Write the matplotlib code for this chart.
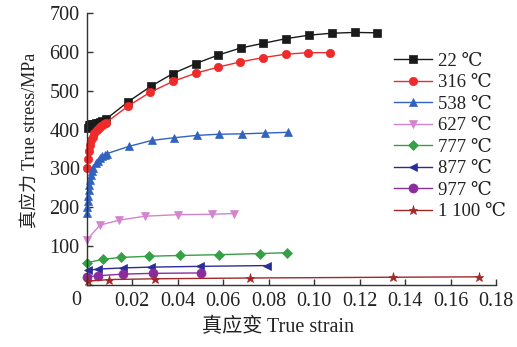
import matplotlib
matplotlib.use("Agg")
import matplotlib.pyplot as plt

# ---- data ----
labels = ["22 ℃", "316 ℃", "538 ℃", "627 ℃", "777 ℃", "877 ℃", "977 ℃", "1 100 ℃"]

x22 = [0.0005, 0.001, 0.0015, 0.002, 0.003, 0.004, 0.005, 0.006, 0.007, 0.0086,
       0.0184, 0.0282, 0.0379, 0.0481, 0.058, 0.0678, 0.0777, 0.0877, 0.0979, 0.1078, 0.118, 0.1278]
y22 = [405, 411, 413, 414, 415, 416, 417, 419, 423, 427,
       472, 511, 544, 570, 592, 610, 622, 634, 643, 648, 650, 649]

x316 = [0.0003, 0.0006, 0.001, 0.0015, 0.002, 0.0027, 0.0035, 0.0045, 0.0055, 0.0065, 0.0075, 0.0086,
        0.0184, 0.028, 0.038, 0.048, 0.058, 0.0675, 0.0774, 0.0877, 0.0975, 0.107]
y316 = [300, 325, 345, 360, 372, 382, 391, 399, 405, 410, 414, 418,
        461, 496, 524, 545, 561, 574, 585, 594, 598, 598]

x538 = [0.0002, 0.0004, 0.0006, 0.0008, 0.001, 0.0013, 0.0016, 0.002, 0.0025, 0.003,
        0.004, 0.005, 0.006, 0.007, 0.008, 0.0089,
        0.0188, 0.0287, 0.0385, 0.0484, 0.0582, 0.0685, 0.0785, 0.0887]
y538 = [185, 200, 215, 230, 245, 258, 270, 282, 293, 302,
        313, 320, 326, 331, 335, 338,
        357, 372, 379, 385, 388, 389, 391, 393]

x627 = [0.0, 0.0059, 0.0144, 0.0257, 0.040, 0.055, 0.0648]
y627 = [115, 154, 167, 177, 181, 182, 184]

x777 = [0.0, 0.0071, 0.015, 0.0276, 0.0411, 0.0582, 0.0763, 0.088]
y777 = [57, 66, 71, 74, 76, 78, 81, 83]

x877 = [0.0008, 0.0052, 0.0162, 0.0282, 0.0499, 0.0792]
y877 = [38, 41, 44, 46, 48, 50]

x977 = [0.0, 0.0052, 0.0162, 0.0291, 0.0502]
y977 = [21, 24, 28, 30, 31]

x1100 = [0.0008, 0.010, 0.0301, 0.0719, 0.1349, 0.1727]
y1100 = [10, 14, 16, 18, 20, 21]

xticks = [0, 0.02, 0.04, 0.06, 0.08, 0.10, 0.12, 0.14, 0.16, 0.18]
xticklabels = ["", "0.02", "0.04", "0.06", "0.08", "0.10", "0.12", "0.14", "0.16", "0.18"]
yticks = [0, 100, 200, 300, 400, 500, 600, 700]
yticklabels = ["", "100", "200", "300", "400", "500", "600", "700"]

series = [(x22, y22), (x316, y316), (x538, y538), (x627, y627),
          (x777, y777), (x877, y877), (x977, y977), (x1100, y1100)]
colors = ["#1a1a1a", "#ee2a2a", "#3262c0", "#d484cc", "#36a046", "#2c2c98", "#8c2c9c", "#a02828"]
markers = ["s", "o", "^", "v", "D", "<", "o", "*"]
msizes = [5.5, 6, 6, 6, 5, 6, 6.5, 6.5]

serif = ["Liberation Serif", "DejaVu Serif", "Noto Sans CJK SC", "DejaVu Sans"]
plt.rcParams["font.family"] = serif
FS = 14.5

fig = plt.figure(figsize=(5.17, 3.47), dpi=100)
ax = fig.add_axes([86.5 / 517, 62 / 347, (496 - 86.5) / 517, (285 - 13) / 347])

for (xs, ys), c, m, ms, lab in zip(series, colors, markers, msizes, labels):
    ax.plot(xs, ys, color=c, marker=m, markersize=ms, lw=1.0, label=lab,
            markeredgewidth=0.5, markeredgecolor=c, clip_on=False)

ax.set_xlim(0, 0.18)
ax.set_ylim(0, 700)
ax.set_xticks(xticks)
ax.set_xticklabels(xticklabels)
ax.set_yticks(yticks)
ax.set_yticklabels(yticklabels)
for s in ["top", "right"]:
    ax.spines[s].set_visible(False)
for s in ["left", "bottom"]:
    ax.spines[s].set_color("#333333")
    ax.spines[s].set_linewidth(1.0)
ax.tick_params(direction="in", length=4, width=1, colors="#333333",
               labelcolor="#222222", labelsize=FS)
ax.tick_params(axis="x", pad=5)
ax.tick_params(axis="y", pad=5)

ax.text(-0.0045, -16, "0", ha="center", va="top", fontsize=FS, color="#222222")

fig.text(31 / 517, 1 - 140 / 347, "真应力 True stress/MPa", rotation=90,
         ha="center", va="center", fontsize=13, color="#222222")
fig.text(278 / 517, 1 - 328 / 347, "真应变 True strain", ha="center", va="center",
         fontsize=FS, color="#222222")

leg = ax.legend(loc="upper left", bbox_to_anchor=(0.752, 0.855), frameon=False,
                handlelength=2.0, handletextpad=0.3, labelspacing=0.235,
                fontsize=13.5, borderaxespad=0, borderpad=0)
for t in leg.get_texts():
    t.set_color("#222222")

fig.savefig("out.png", dpi=100)
